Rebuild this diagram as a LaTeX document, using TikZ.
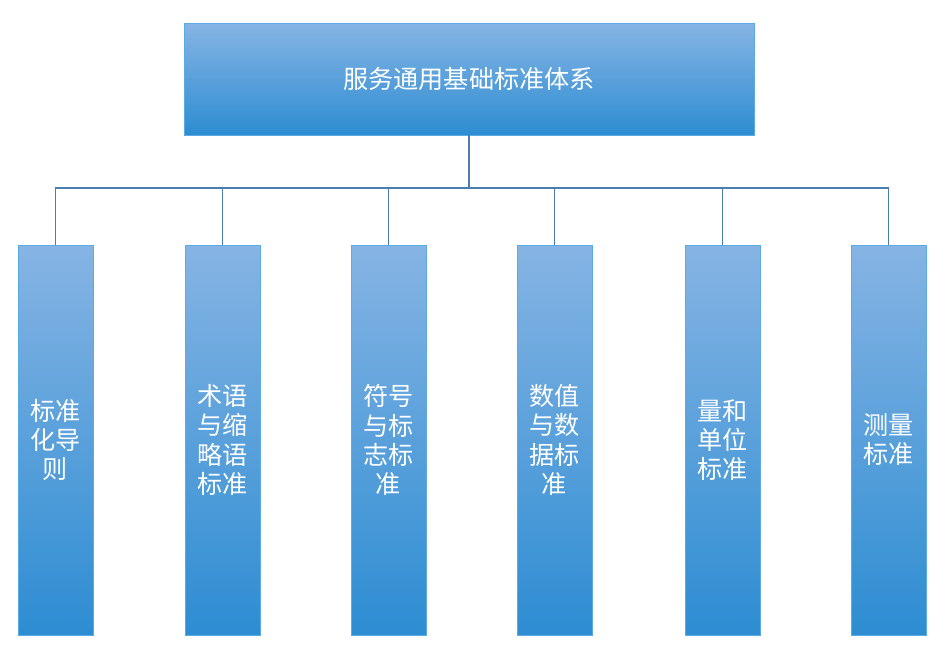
\documentclass[tikz,border=0pt]{standalone}
\usepackage{fontspec}
\newfontfamily\cjk{Noto Sans CJK SC}
\definecolor{boxtop}{HTML}{86B4E4}
\definecolor{boxbot}{HTML}{2D8DD2}
\definecolor{boxline}{HTML}{5AAAE4}
\definecolor{linkline}{HTML}{4A7EB0}
\tikzset{
    topbox/.style={draw=boxline,top color=boxtop,bottom color=boxbot,
        minimum width=11.4cm,minimum height=2.24cm,inner sep=0pt,
        text=white,font=\cjk\fontsize{14.3}{16.5}\selectfont},
    subbox/.style={draw=boxline,top color=boxtop,bottom color=boxbot,
        minimum width=1.5cm,minimum height=7.8cm,inner sep=0pt,align=center,
        text=white,font=\cjk\fontsize{14.3}{16.6}\selectfont},
    link/.style={draw=linkline,line width=0.6pt}
}
\begin{document}
\begin{tikzpicture}[x=0.02cm,y=-0.02cm]
        \useasboundingbox (0,0) rectangle (951,655);

        \node[topbox] (root) at (469,79) {服务通用基础标准体系};

        \node[subbox] (s1) at (55.5,440) {标准\\化导\\则};
        \node[subbox] (s2) at (222.5,440) {术语\\与缩\\略语\\标准};
        \node[subbox] (s3) at (388.5,440) {符号\\与标\\志标\\准};
        \node[subbox] (s4) at (554.5,440) {数值\\与数\\据标\\准};
        \node[subbox] (s5) at (722.5,440) {量和\\单位\\标准};
        \node[subbox] (s6) at (888.5,440) {测量\\标准};

        \coordinate (bus) at (469,188);
        \draw[link] (root.south) -- (bus);
        \draw[link] (s1.north) |- (bus) -| (s6.north);
        \draw[link] (s2.north) -- (s2.north |- bus);
        \draw[link] (s3.north) -- (s3.north |- bus);
        \draw[link] (s4.north) -- (s4.north |- bus);
        \draw[link] (s5.north) -- (s5.north |- bus);
    \end{tikzpicture}
\end{document}
